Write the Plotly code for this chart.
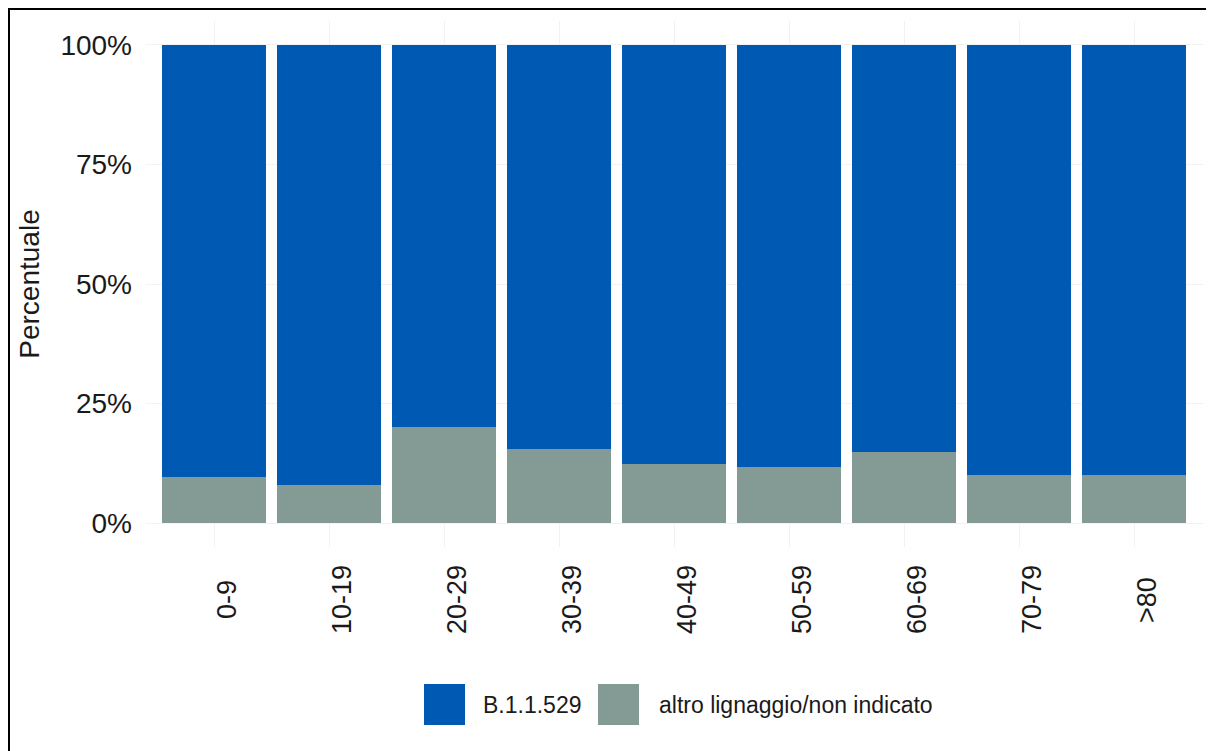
import plotly.graph_objects as go

categories = ["0-9", "10-19", "20-29", "30-39", "40-49", "50-59", "60-69", "70-79", ">80"]
altro = [9.6, 7.9, 20.1, 15.5, 12.3, 11.7, 14.9, 10.0, 10.0]
omicron = [round(100 - v, 1) for v in altro]
series_names = ["B.1.1.529", "altro lignaggio/non indicato"]
colors = ["#0059B3", "#849A94"]
y_ticks = [0, 25, 50, 75, 100]
y_ticklabels = ["0%", "25%", "50%", "75%", "100%"]

OFF = 8  # default page body margin
W, H = 1214 - OFF, 751 - OFF
L, R, T, B = 145 - OFF, 11, 21 - OFF, 204
pw, ph = W - L - R, H - T - B

def px(x):
    return (x - OFF - L) / pw

def py(y):
    return (H - B - (y - OFF)) / ph

fig = go.Figure()
fig.add_trace(go.Bar(x=categories, y=altro, name=series_names[1], marker=dict(color=colors[1], line=dict(width=0)), width=0.9, showlegend=False))
fig.add_trace(go.Bar(x=categories, y=omicron, name=series_names[0], marker=dict(color=colors[0], line=dict(width=0)), width=0.9, showlegend=False))

font = "Liberation Sans, Arial, sans-serif"
fig.update_layout(
    barmode="stack",
    width=W, height=H,
    margin=dict(l=L, r=R, t=T, b=B, autoexpand=False),
    plot_bgcolor="white", paper_bgcolor="white",
    font=dict(family=font, color="#1a1a1a"),
    showlegend=False,
)
fig.update_xaxes(
    range=[-0.6, 8.6], showgrid=True, gridcolor="#F2F2F2", gridwidth=1,
    showticklabels=False, ticks="", zeroline=False, showline=False,
)
fig.update_yaxes(
    range=[-5, 105], tickvals=y_ticks, ticktext=y_ticklabels, showgrid=True,
    gridcolor="#F2F2F2", gridwidth=1, tickfont=dict(size=28, color="#1a1a1a"),
    ticks="", ticklabelstandoff=12, zeroline=False, showline=False,
    title=dict(text="Percentuale", font=dict(size=28, color="#1a1a1a"), standoff=12),
)

# x category labels: rotated, centred vertically (as in reference)
for cat in categories:
    fig.add_annotation(xref="x", yref="paper", x=cat, y=py(600), text=cat, textangle=-90,
                       showarrow=False, xanchor="center", yanchor="middle", xshift=13,
                       font=dict(size=27, color="#1a1a1a", family=font))

# legend drawn manually (large keys as in reference)
legend_items = [(424, 465, 481, series_names[0], colors[0]), (598, 639, 657, series_names[1], colors[1])]
for x0, x1, tx, label, col in legend_items:
    fig.add_shape(type="rect", xref="paper", yref="paper", x0=px(x0), x1=px(x1), y0=py(725), y1=py(684),
                  fillcolor=col, line=dict(width=0))
    fig.add_annotation(xref="paper", yref="paper", x=px(tx), y=py(705), text=label, showarrow=False,
                       xanchor="left", yanchor="middle", font=dict(size=23, color="#1a1a1a", family=font))

# frame lines (left and top)
fig.add_shape(type="line", xref="paper", yref="paper", x0=px(8.5), x1=px(8.5), y0=py(7), y1=py(760), line=dict(color="black", width=3))
fig.add_shape(type="line", xref="paper", yref="paper", x0=px(7), x1=px(1220), y0=py(8.5), y1=py(8.5), line=dict(color="black", width=3))

fig.write_html("out.html")
